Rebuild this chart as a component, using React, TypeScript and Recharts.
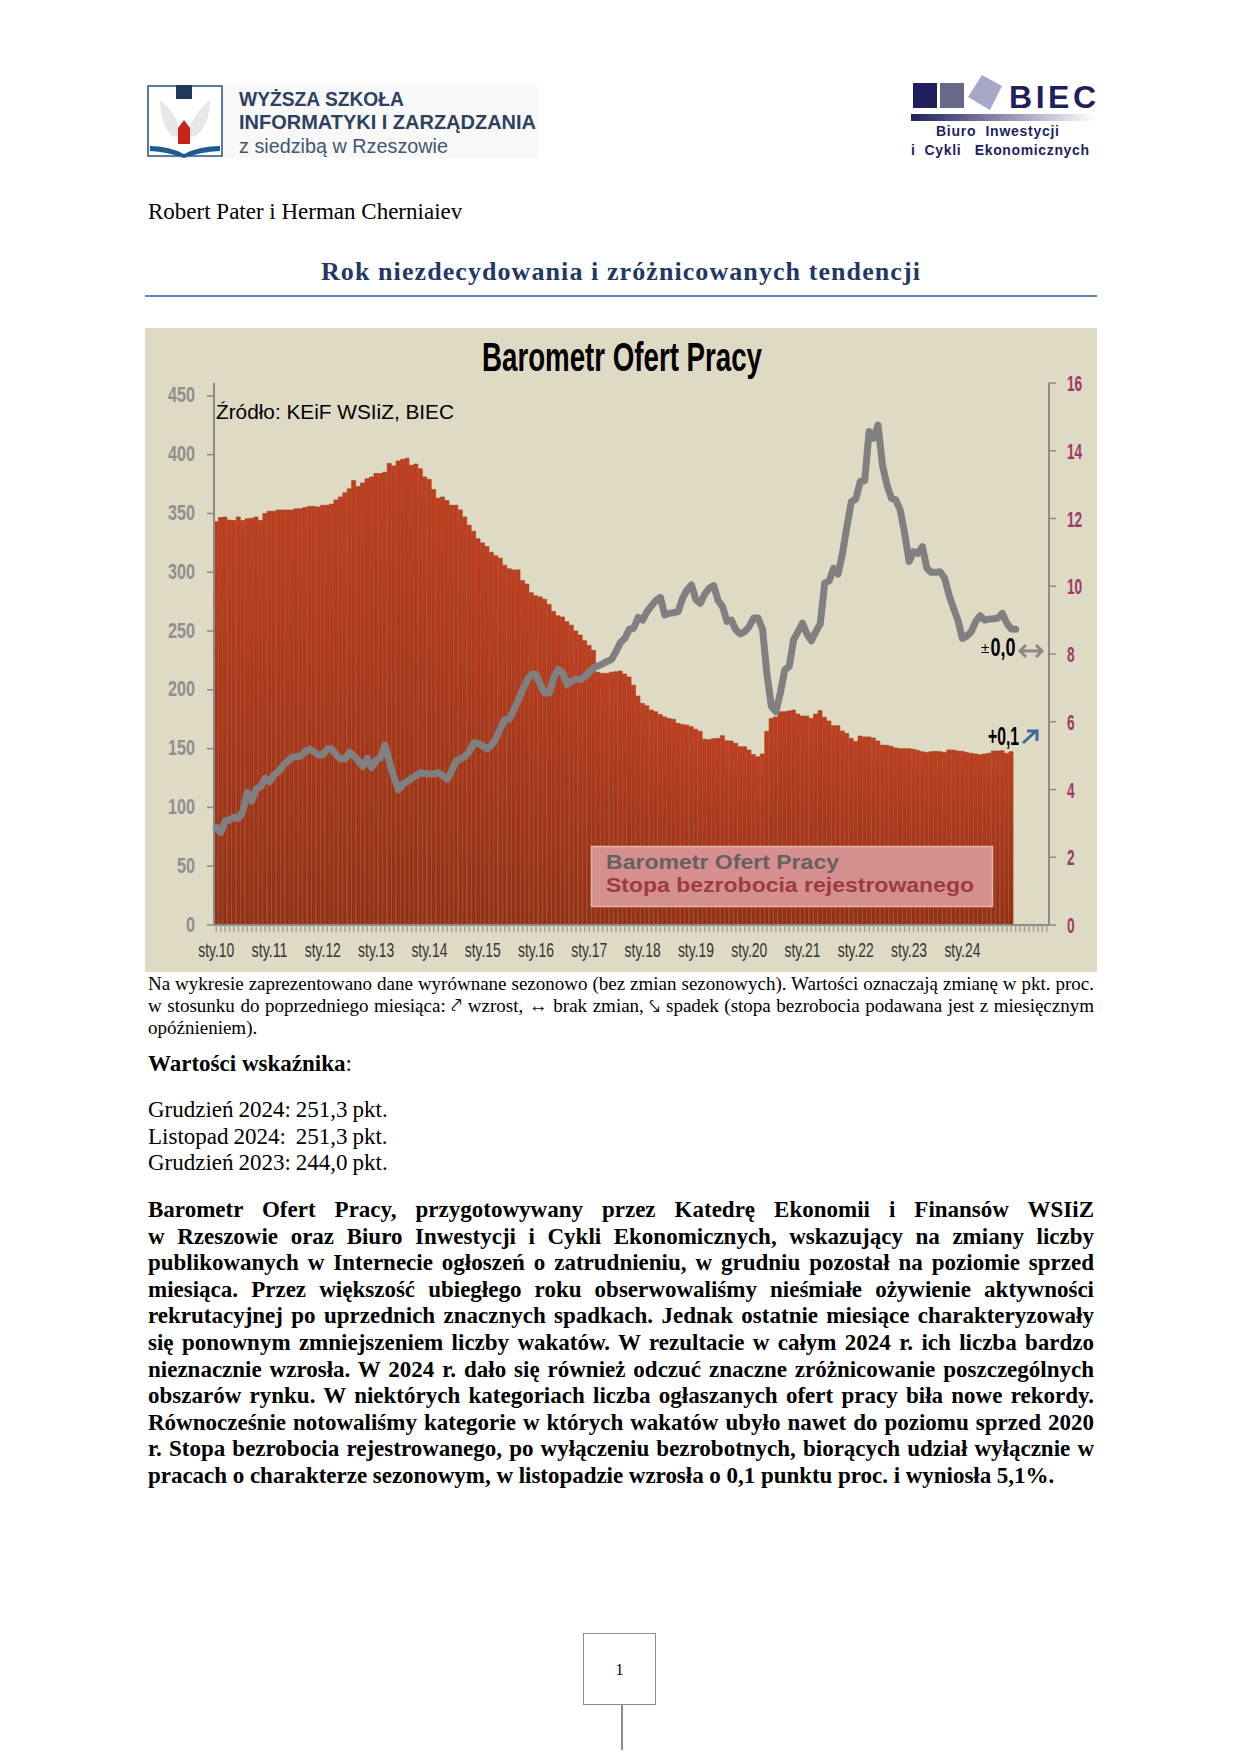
import { Bar, ComposedChart, Line, XAxis, YAxis } from 'recharts';

const years = ['10', '11', '12', '13', '14', '15', '16', '17', '18', '19', '20', '21', '22', '23', '24'];

const barometr = [
  343, 346.6, 347, 344.4, 344, 347, 344, 345.5, 346, 347,
  344, 350, 352, 352, 353, 353, 353, 353, 354, 354,
  355, 356, 356, 355.5, 357, 357, 358, 361.5, 364, 367.6,
  371, 378, 373, 376, 379.5, 381, 384, 384, 385, 392.6,
  390.5, 394.6, 396, 397, 391, 392, 388, 381, 379, 370.5,
  363, 364, 361, 357, 357, 353, 347, 340, 335, 328.5,
  325, 322, 317, 314, 312, 306, 303, 302, 302, 293,
  290, 282.6, 280, 279, 277, 272.7, 266.7, 263, 262, 258,
  255, 250, 246.6, 241.8, 237.8, 233.6, 215, 214, 214, 215,
  215.4, 216, 213.4, 211, 204, 194.7, 188.5, 186.5, 182.8, 181.4,
  179, 177, 175.7, 175, 171.5, 170.6, 170, 168.6, 166.4, 164.7,
  158, 157.6, 158.4, 158.7, 161, 156.7, 156.5, 154.5, 151.6, 151.6,
  148.8, 145, 143, 145.4, 164.7, 175.7, 177, 181.4, 181.4, 182,
  182.8, 179.4, 177.7, 177.7, 175.7, 179.4, 182.3, 176.6, 173.5, 169.5,
  169.5, 165, 163, 158.7, 156, 160.7, 160, 160, 159, 156.5,
  153, 152.8, 152, 150.5, 150, 150, 150, 149.4, 148.5, 147.4,
  146.8, 147.4, 147.7, 147.4, 146.8, 148.8, 148.8, 148, 147.7, 146.8,
  146, 145.4, 144.8, 145.4, 146, 148, 148, 148.2, 146, 147.4,
];

const stopa = [
  2.88, 2.73, 3.07, 3.1, 3.18, 3.15, 3.35, 3.92, 3.66, 4.02,
  4.08, 4.33, 4.23, 4.43, 4.53, 4.7, 4.82, 4.95, 4.97, 4.99,
  5.12, 5.19, 5.12, 5.02, 5.02, 5.2, 5.2, 5.02, 4.9, 4.9,
  5.1, 4.99, 4.85, 4.68, 4.92, 4.65, 4.87, 4.94, 5.31, 4.82,
  4.38, 3.99, 4.16, 4.23, 4.33, 4.41, 4.5, 4.47, 4.46, 4.46,
  4.5, 4.41, 4.3, 4.55, 4.84, 4.9, 4.97, 5.12, 5.38, 5.36,
  5.29, 5.2, 5.31, 5.51, 5.81, 6.07, 6.08, 6.35, 6.64, 6.94,
  7.23, 7.4, 7.4, 7.09, 6.85, 6.85, 7.3, 7.55, 7.45, 7.09,
  7.2, 7.26, 7.25, 7.33, 7.46, 7.6, 7.65, 7.71, 7.78, 7.84,
  8.07, 8.34, 8.46, 8.73, 8.76, 9.08, 9.0, 9.25, 9.42, 9.58,
  9.67, 9.15, 9.2, 9.22, 9.25, 9.65, 9.89, 10.04, 9.6, 9.5,
  9.77, 9.94, 10.02, 9.58, 9.4, 8.96, 9.0, 8.71, 8.59, 8.66,
  8.81, 9.06, 9.06, 8.73, 7.4, 6.45, 6.3, 6.84, 7.53, 7.63,
  8.42, 8.66, 8.91, 8.59, 8.39, 8.66, 8.89, 10.09, 10.16, 10.53,
  10.36, 10.97, 11.76, 12.5, 12.57, 13.09, 13.11, 14.57, 14.37, 14.76,
  13.58, 12.99, 12.6, 12.55, 12.25, 11.56, 10.73, 11.02, 10.97, 11.17,
  10.53, 10.41, 10.41, 10.43, 10.24, 9.74, 9.35, 9.0, 8.46, 8.53,
  8.66, 8.96, 9.13, 9.0, 9.03, 9.04, 9.06, 9.2, 8.91, 8.74, 8.73,
];

const leftTicks = [0, 50, 100, 150, 200, 250, 300, 350, 400, 450];
const rightTicks = [0, 2, 4, 6, 8, 10, 12, 14, 16];

const captionLines = [
  'Na wykresie zaprezentowano dane wyrównane sezonowo (bez zmian sezonowych). Wartości oznaczają zmianę w pkt. proc.',
  'w stosunku do poprzedniego miesiąca: ⤤ wzrost, ↔ brak zmian, ⤥ spadek (stopa bezrobocia podawana jest z miesięcznym',
];
const captionLast = 'opóźnieniem).';

const wartosci = ['Grudzień 2024: 251,3 pkt.', 'Listopad 2024:  251,3 pkt.', 'Grudzień 2023: 244,0 pkt.'];

const bodyLines = [
  'Barometr Ofert Pracy, przygotowywany przez Katedrę Ekonomii i Finansów WSIiZ',
  'w\u00a0Rzeszowie oraz Biuro Inwestycji i Cykli Ekonomicznych, wskazujący na zmiany liczby',
  'publikowanych w Internecie ogłoszeń o zatrudnieniu, w grudniu pozostał na poziomie sprzed',
  'miesiąca. Przez większość ubiegłego roku obserwowaliśmy nieśmiałe ożywienie aktywności',
  'rekrutacyjnej po uprzednich znacznych spadkach. Jednak ostatnie miesiące charakteryzowały',
  'się ponownym zmniejszeniem liczby wakatów. W rezultacie w całym 2024 r. ich liczba bardzo',
  'nieznacznie wzrosła. W 2024 r. dało się również odczuć znaczne zróżnicowanie poszczególnych',
  'obszarów rynku. W niektórych kategoriach liczba ogłaszanych ofert pracy biła nowe rekordy.',
  'Równocześnie notowaliśmy kategorie w których wakatów ubyło nawet do poziomu sprzed 2020',
  'r. Stopa bezrobocia rejestrowanego, po wyłączeniu bezrobotnych, biorących udział wyłącznie w',
  'pracach o charakterze sezonowym, w listopadzie wzrosła o 0,1 punktu proc. i wyniosła 5,1%.',
];

// 180 miesiecy + puste miejsca do prawej osi
const data = Array.from({ length: 188 }, (_, i) => ({
  label: i % 12 === 0 && years[i / 12] ? 'sty.' + years[i / 12] : '',
  barometr: barometr[i] ?? null,
  stopa: stopa[i] ?? null,
}));

const narrow = '"Liberation Sans Narrow", "Liberation Sans", sans-serif';
const serif = '"Liberation Serif", serif';
const arial = '"Liberation Sans", sans-serif';

function XTick({ x, y, payload }: any) {
  if (!payload.value) return null;
  return (
    <text x={x} y={y + 23} textAnchor="middle" fontFamily={narrow} fontSize={21} fill="#333" textLength={36} lengthAdjust="spacingAndGlyphs">
      {payload.value}
    </text>
  );
}

function LeftTick({ x, y, payload }: any) {
  const s = String(payload.value);
  return (
    <text x={x} y={y + 6.5} textAnchor="end" fontFamily={narrow} fontWeight="bold" fontSize={22} fill="#8f8f8f" textLength={s.length * 9} lengthAdjust="spacingAndGlyphs">
      {s}
    </text>
  );
}

function RightTick({ x, y, payload }: any) {
  const s = String(payload.value);
  return (
    <text x={x} y={y + 8} textAnchor="start" fontFamily={narrow} fontWeight="bold" fontSize={22} fill="#9b3a68" textLength={s.length * 7.6} lengthAdjust="spacingAndGlyphs">
      {s}
    </text>
  );
}

function Abs({ x, y, style, children }: any) {
  return <div style={{ position: 'absolute', left: x, top: y, whiteSpace: 'pre', ...style }}>{children}</div>;
}

function Justified({ y, text, size, weight, left = 148, width = 946, lh }: any) {
  return (
    <div
      style={{
        position: 'absolute', left, top: y, width, height: lh, lineHeight: lh + 'px', overflow: 'hidden',
        fontFamily: serif, fontSize: size, fontWeight: weight, textAlign: 'justify', textAlignLast: 'justify', color: '#000',
      }}
    >
      {text}
    </div>
  );
}

function Logos() {
  return (
    <svg width={1241} height={180} style={{ position: 'absolute', left: 0, top: 0 }}>
      <defs>
        <linearGradient id="biecBar" x1="0" x2="1" y1="0" y2="0">
          <stop offset="0%" stopColor="#1f1f5e" />
          <stop offset="100%" stopColor="#ffffff" />
        </linearGradient>
      </defs>
      <rect x={147} y={85} width={392} height={73} fill="#f8f8f8" />
      <rect x={148} y={86} width={74} height={70} fill="#ffffff" stroke="#27507f" strokeWidth={1.5} />
      <path d="M160 100 Q176 112 180 132 L182 138 L172 136 Q160 124 160 100Z" fill="#e4e8ea" />
      <path d="M210 100 Q194 112 188 132 L186 138 L196 136 Q210 124 210 100Z" fill="#e4e8ea" />
      <path d="M178 128 L184 120 L190 128 L190 144 L178 144Z" fill="#c8231c" />
      <path d="M150 146 Q168 146 184 154 Q200 146 220 146 L220 151 Q200 152 184 158 Q168 152 150 151Z" fill="#1c5b94" />
      <rect x={176} y={85} width={16} height={14} fill="#1f3a5f" />
      <text x={239} y={106} fontFamily={arial} fontWeight="bold" fontSize={20} fill="#2c415f" textLength={165} lengthAdjust="spacingAndGlyphs">WYŻSZA SZKOŁA</text>
      <text x={239} y={129} fontFamily={arial} fontWeight="bold" fontSize={20} fill="#2c415f" textLength={297} lengthAdjust="spacingAndGlyphs">INFORMATYKI I ZARZĄDZANIA</text>
      <text x={239} y={153} fontFamily={arial} fontSize={20} fill="#44566f" textLength={209} lengthAdjust="spacingAndGlyphs">z siedzibą w Rzeszowie</text>

      <rect x={913} y={83} width={24} height={25} fill="#1f1f5e" />
      <rect x={940} y={83} width={24} height={25} fill="#666a88" />
      <polygon points="982,75 1002,86 990,110 968,97" fill="#a5a9c5" />
      <text x={1009} y={108} fontFamily={arial} fontWeight="bold" fontSize={32} fill="#1f1f5e" textLength={87} lengthAdjust="spacing">BIEC</text>
      <rect x={911} y={114} width={185} height={7} fill="url(#biecBar)" />
      <text x={936} y={136} fontFamily={arial} fontWeight="bold" fontSize={14} fill="#1f1f5e" textLength={123} xmlSpace="preserve">Biuro  Inwestycji</text>
      <text x={911} y={155} fontFamily={arial} fontWeight="bold" fontSize={14} fill="#1f1f5e" textLength={178} xmlSpace="preserve">i  Cykli   Ekonomicznych</text>
    </svg>
  );
}

function BarometrChart() {
  return (
    <div style={{ position: 'absolute', left: 145, top: 328, width: 952, height: 644, background: '#dedac3' }}>
      <ComposedChart
        width={952}
        height={644}
        data={data}
        margin={{ top: 55, right: 0, bottom: 0, left: 0 }}
        barCategoryGap={0}
        barGap={0}
      >
        <defs>
          <linearGradient id="slupek" x1="0" x2="0" y1="0" y2="1">
            <stop offset="0%" stopColor="#c43c22" />
            <stop offset="100%" stopColor="#933019" />
          </linearGradient>
        </defs>
        <XAxis
          dataKey="label"
          interval={0}
          height={47}
          tick={<XTick />}
          tickSize={7}
          axisLine={{ stroke: '#8a8a8a', strokeWidth: 2 }}
          tickLine={{ stroke: '#a3a294', strokeWidth: 1.5 }}
        />
        <YAxis
          yAxisId="l"
          orientation="left"
          width={69}
          domain={[0, 461]}
          ticks={leftTicks}
          tick={<LeftTick />}
          tickSize={7}
          tickMargin={12}
          axisLine={{ stroke: '#8a8a8a', strokeWidth: 2 }}
          tickLine={{ stroke: '#8a8a8a', strokeWidth: 1.5 }}
        />
        <YAxis
          yAxisId="r"
          orientation="right"
          width={48}
          domain={[0, 16]}
          ticks={rightTicks}
          tick={<RightTick />}
          tickSize={7}
          tickMargin={11}
          axisLine={{ stroke: '#8a8a8a', strokeWidth: 2 }}
          tickLine={{ stroke: '#8a8a8a', strokeWidth: 1.5 }}
        />
        <Bar
          yAxisId="l"
          dataKey="barometr"
          fill="url(#slupek)"
          stroke="#9a4418"
          strokeOpacity={0.75}
          strokeWidth={0.9}
          isAnimationActive={false}
        />
        <Line
          yAxisId="r"
          dataKey="stopa"
          stroke="#808080"
          strokeWidth={7}
          strokeLinejoin="round"
          strokeLinecap="round"
          type="linear"
          dot={false}
          activeDot={false}
          isAnimationActive={false}
        />
      </ComposedChart>
      <svg width={952} height={644} style={{ position: 'absolute', left: 0, top: 0 }}>
        <text x={337} y={43} fontFamily={narrow} fontWeight="bold" fontSize={40} fill="#000" textLength={280} lengthAdjust="spacingAndGlyphs">
          Barometr Ofert Pracy
        </text>
        <text x={71} y={91} fontFamily={arial} fontSize={21} fill="#000" textLength={238} lengthAdjust="spacingAndGlyphs">
          Źródło: KEiF WSIiZ, BIEC
        </text>
        <text x={836} y={325} fontFamily={arial} fontSize={15} fill="#000">±</text>
        <text x={845.5} y={328} fontFamily={narrow} fontWeight="bold" fontSize={25} fill="#000" textLength={25} lengthAdjust="spacingAndGlyphs">0,0</text>
        <g stroke="#8a8a8a" strokeWidth={3} fill="none">
          <path d="M875 323 H897 M881 317 L875 323 L881 329 M891 317 L897 323 L891 329" />
        </g>
        <text x={843} y={417} fontFamily={narrow} fontWeight="bold" fontSize={25} fill="#000" textLength={31} lengthAdjust="spacingAndGlyphs">+0,1</text>
        <g stroke="#3f6a9f" strokeWidth={3} fill="none">
          <path d="M878 415 L891 403 M882 403 H892 V413" />
        </g>
        <rect x={446.5} y={518.5} width={401} height={60} fill="#d68f8f" stroke="#e4b4b0" strokeWidth={1.5} />
        <text x={461} y={541} fontFamily={arial} fontWeight="bold" fontSize={21} fill="#666060" textLength={233} lengthAdjust="spacingAndGlyphs">Barometr Ofert Pracy</text>
        <text x={461} y={564} fontFamily={arial} fontWeight="bold" fontSize={21} fill="#9c3c3c" textLength={368} lengthAdjust="spacingAndGlyphs">Stopa bezrobocia rejestrowanego</text>
      </svg>
    </div>
  );
}

export default function App() {
  return (
    <div style={{ position: 'absolute', left: 0, top: 0, width: 1241, height: 1755, background: '#fff', overflow: 'hidden' }}>
      <Logos />
      <Abs x={148} y={198} style={{ fontFamily: serif, fontSize: 23, lineHeight: '28px' }}>Robert Pater i Herman Cherniaiev</Abs>
      <Abs x={321} y={254} style={{ fontFamily: serif, fontSize: 26, fontWeight: 'bold', lineHeight: '36px', color: '#1f3864', letterSpacing: 1.08 }}>
        Rok niezdecydowania i zróżnicowanych tendencji
      </Abs>
      <div style={{ position: 'absolute', left: 145, top: 295, width: 952, height: 2, background: '#5b88bb' }} />
      <BarometrChart />
      {captionLines.map((t, i) => (
        <Justified key={i} y={972.5 + i * 22} text={t} size={19} lh={21} />
      ))}
      <Abs x={148} y={1017} style={{ fontFamily: serif, fontSize: 19, lineHeight: '21px' }}>{captionLast}</Abs>
      <Abs x={148} y={1050} style={{ fontFamily: serif, fontSize: 23, lineHeight: '28px' }}>
        <b>Wartości wskaźnika</b>:
      </Abs>
      {wartosci.map((t, i) => (
        <Abs key={i} x={148} y={1097 + i * 26.5} style={{ fontFamily: serif, fontSize: 23, lineHeight: '26px', wordSpacing: -0.8 }}>{t}</Abs>
      ))}
      {bodyLines.map((t, i) =>
        i < bodyLines.length - 1 ? (
          <Justified key={i} y={1197 + i * 26.6} text={t} size={23} weight="bold" lh={26} />
        ) : (
          <Abs key={i} x={148} y={1197 + i * 26.6} style={{ fontFamily: serif, fontSize: 23, fontWeight: 'bold', lineHeight: '26px', letterSpacing: -0.03 }}>{t}</Abs>
        ),
      )}
      <div style={{ position: 'absolute', left: 583, top: 1633, width: 71, height: 70, border: '1.5px solid #8c8c8c', textAlign: 'center', lineHeight: '72px', fontFamily: serif, fontSize: 16 }}>
        1
      </div>
      <div style={{ position: 'absolute', left: 621, top: 1705, width: 1.5, height: 45, background: '#8c8c8c' }} />
    </div>
  );
}
